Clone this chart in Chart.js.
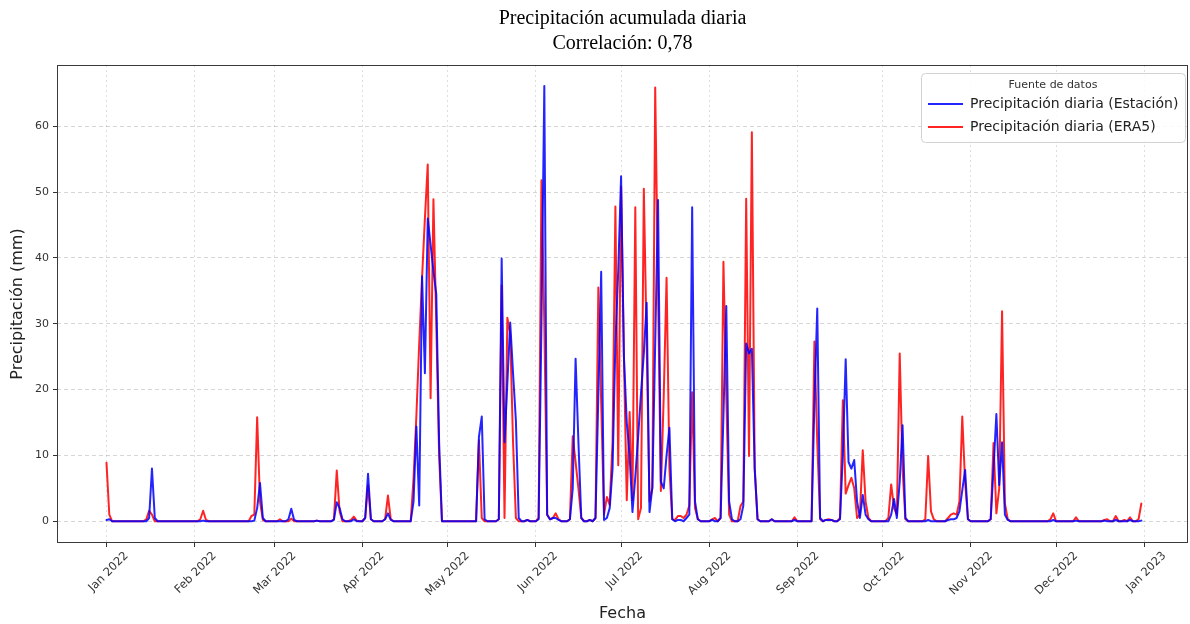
<!DOCTYPE html>
<html>
<head>
<meta charset="utf-8">
<script src="https://cdn.jsdelivr.net/npm/chart.js@4.4.1/dist/chart.umd.min.js"></script>
<style>
  html, body { margin: 0; padding: 0; background: #ffffff; }
  #wrap { width: 1190px; height: 624px; }
</style>
</head>
<body>
<div id="wrap"><canvas id="c" width="1190" height="624"></canvas></div>
<script>
// ---------- data (daily values, 2022-01-01 .. 2022-12-31) ----------
const firstDay = '2022-01-01';

const station = [
  /* Jan */ 0.2,0.3,0,0,0,0,0,0,0,0, 0,0,0,0,0,0.5,8.0,0.5,0,0, 0,0,0,0,0,0,0,0,0,0, 0,
  /* Feb */ 0,0,0,0.1,0,0,0,0,0,0, 0,0,0,0,0,0,0,0,0,0, 0,0.1,2.0,5.8,0.5,0,0,0,
  /* Mar */ 0,0,0,0,0,0.3,1.9,0.2,0,0, 0,0,0,0,0,0.1,0,0,0,0, 0,0.2,2.9,2.0,0.3,0,0,0,0.3,0, 0,
  /* Apr */ 0,0.5,7.2,0.3,0,0,0,0,0.3,1.2, 0.2,0,0,0,0,0,0,0,3.0,14.4, 2.4,37.2,22.5,46.0,42.0,38.0,34.5,12.0,0,0,
  /* May */ 0,0,0,0,0,0,0,0,0,0, 0,12.8,15.9,0.3,0,0,0,0,0.3,39.9, 12.0,21.0,30.2,22.5,15.3,0.5,0,0,0.2,0, 0,
  /* Jun */ 0,0.3,30.0,66.1,1.0,0.3,0.5,0.5,0.2,0, 0,0,0.3,5.0,24.7,12.0,0.5,0,0,0.2, 0,0.5,19.0,37.9,0.2,0.5,2.0,8.0,27.0,38.0,
  /* Jul */ 52.4,25.0,15.0,10.0,1.4,6.7,12.8,19.4,25.5,33.2, 1.4,5.2,27.0,48.8,6.0,5.0,10.0,14.2,0.3,0, 0.2,0.2,0,0.5,1.0,47.7,3.0,0.3,0,0, 0,
  /* Aug */ 0,0.2,0,0,0.5,16.0,32.7,3.0,0.3,0, 0,0.3,2.4,27.0,25.5,26.2,8.0,0.3,0,0, 0,0,0.3,0,0,0,0,0,0,0, 0.2,
  /* Sep */ 0,0,0,0,0,0,18.0,32.3,0.5,0, 0.2,0.2,0.2,0,0,0.3,10.0,24.6,9.0,8.0, 9.3,3.0,0.5,4.0,1.0,0.3,0,0,0,0,
  /* Oct */ 0,0,0,1.0,3.4,0.5,6.0,14.6,0.5,0, 0,0,0,0,0,0,0.2,0,0,0, 0,0,0,0.2,0.3,0.3,0.5,1.5,4.7,7.8, 0.3,
  /* Nov */ 0,0,0,0,0,0,0,0.3,8.0,16.3, 5.5,12.0,1.0,0.2,0,0,0,0,0,0, 0,0,0,0,0,0,0,0,0,0.2,
  /* Dec */ 0,0,0,0,0,0,0,0.1,0,0, 0,0,0,0,0,0,0,0.1,0,0, 0,0.2,0,0,0,0,0.2,0,0,0, 0.1
];

const era5 = [
  /* Jan */ 8.9,1.0,0,0,0,0,0,0,0,0, 0,0,0,0,0.3,1.6,1.0,0,0,0, 0,0,0,0,0,0,0,0,0,0, 0,
  /* Feb */ 0,0,0.3,1.6,0.2,0,0,0,0,0, 0,0,0,0,0,0,0,0,0,0, 0.8,1.0,15.8,3.0,0.2,0,0,0,
  /* Mar */ 0,0,0.3,0,0,0,0.4,0,0,0, 0,0,0,0,0,0.1,0,0,0,0, 0,0.3,7.7,1.5,0,0,0,0.2,0.7,0.1, 0,
  /* Apr */ 0,0.5,5.5,0.3,0,0,0,0,0.3,3.9, 0.3,0,0,0,0,0,0,0,6.5,16.0, 27.0,37.0,46.0,54.2,18.7,48.9,30.0,10.0,0,0,
  /* May */ 0,0,0,0,0,0,0,0,0,0, 0,12.3,0.5,0,0,0,0,0,0.3,35.8, 0.5,30.9,28.5,12.0,0.5,0,0,0,0.2,0, 0,
  /* Jun */ 0,0.5,51.8,30.0,1.0,0.3,0.5,1.2,0.3,0, 0,0,0.3,12.9,9.0,5.0,0.5,0,0,0.2, 0,0.5,35.5,18.0,1.0,3.7,2.5,12.0,47.8,8.5,
  /* Jul */ 50.8,25.0,3.2,16.6,3.2,47.7,0.3,2.0,50.5,27.0, 3.0,5.0,65.9,35.0,4.6,19.0,37.0,8.0,0.3,0.2, 0.8,0.8,0.5,1.0,2.4,19.6,2.0,0.3,0,0, 0,
  /* Aug */ 0,0.3,0.5,0,0.5,39.4,19.0,1.0,0,0, 0,2.3,3.0,49.0,9.9,59.1,8.0,0.3,0,0, 0,0,0.3,0,0,0,0,0,0,0, 0.6,
  /* Sep */ 0,0,0,0,0,0,27.3,12.0,0.3,0, 0.2,0.3,0.2,0,0,0.5,18.4,4.2,5.5,6.6, 5.0,0.5,1.0,10.8,3.0,0.5,0,0,0,0,
  /* Oct */ 0,0,0.5,5.6,2.0,1.0,25.5,8.0,0.3,0, 0,0,0,0,0,0.3,9.9,1.5,0.3,0, 0,0,0,0.5,1.0,1.2,1.0,3.0,15.9,6.0, 0.3,
  /* Nov */ 0,0,0,0,0,0,0,0.3,11.9,1.2, 5.0,31.9,2.7,0.3,0,0,0,0,0,0, 0,0,0,0,0,0,0,0,0.3,1.2,
  /* Dec */ 0,0,0,0,0,0,0,0.6,0,0, 0,0,0,0,0,0,0,0.2,0.3,0, 0,0.8,0,0,0.2,0,0.6,0,0,0.3, 2.7
];

const seriesLabels = ['Precipitación diaria (Estación)', 'Precipitación diaria (ERA5)'];
const legendTitle = 'Fuente de datos';
const titleLines = ['Precipitación acumulada diaria', 'Correlación: 0,78'];

const monthTickDates = ['2022-01-01','2022-02-01','2022-03-01','2022-04-01','2022-05-01','2022-06-01',
  '2022-07-01','2022-08-01','2022-09-01','2022-10-01','2022-11-01','2022-12-01','2023-01-01'];
const monthTickLabels = ['Jan 2022','Feb 2022','Mar 2022','Apr 2022','May 2022','Jun 2022',
  'Jul 2022','Aug 2022','Sep 2022','Oct 2022','Nov 2022','Dec 2022','Jan 2023'];
const yTickValues = [0, 10, 20, 30, 40, 50, 60];

// ---------- helpers ----------
const DAY = 86400000;
const t0 = Date.parse(firstDay + 'T00:00:00Z');
const dayOffset = iso => (Date.parse(iso + 'T00:00:00Z') - t0) / DAY;
const tickDays = monthTickDates.map(dayOffset);
const toPoints = arr => arr.map((v, i) => ({ x: i, y: v }));

const BLUE = 'rgba(0,0,255,0.86)';
const RED = 'rgba(255,0,0,0.86)';

function roundRectPath(ctx, x, y, w, h, r) {
  ctx.moveTo(x + r, y);
  ctx.lineTo(x + w - r, y);
  ctx.arcTo(x + w, y, x + w, y + r, r);
  ctx.lineTo(x + w, y + h - r);
  ctx.arcTo(x + w, y + h, x + w - r, y + h, r);
  ctx.lineTo(x + r, y + h);
  ctx.arcTo(x, y + h, x, y + h - r, r);
  ctx.lineTo(x, y + r);
  ctx.arcTo(x, y, x + r, y, r);
  ctx.closePath();
}

const framePlugin = {
  id: 'frame',
  afterDatasetsDraw(chart) {
    const { ctx, chartArea: a } = chart;
    ctx.save();
    ctx.strokeStyle = '#3a3a3a';
    ctx.lineWidth = 1;
    ctx.strokeRect(Math.round(a.left) + 0.5, Math.round(a.top) + 0.5,
      Math.round(a.right - a.left) - 1, Math.round(a.bottom - a.top) - 1);
    ctx.restore();
  }
};

const boxLegendPlugin = {
  id: 'boxLegend',
  afterDraw(chart) {
    const { ctx, chartArea: a } = chart;
    const w = 264, h = 69;
    const x0 = Math.round(a.right - w - 3), y0 = Math.round(a.top + 8);
    ctx.save();
    ctx.beginPath();
    roundRectPath(ctx, x0 + 0.5, y0 + 0.5, w, h, 4);
    ctx.fillStyle = 'rgba(255,255,255,0.85)';
    ctx.fill();
    ctx.strokeStyle = '#d2d2d2';
    ctx.lineWidth = 1;
    ctx.stroke();
    ctx.fillStyle = '#333';
    ctx.font = '11px "DejaVu Sans"';
    ctx.textAlign = 'center';
    ctx.textBaseline = 'middle';
    ctx.fillText(legendTitle, x0 + w / 2, y0 + 12);
    chart.data.datasets.forEach((ds, i) => {
      const y = y0 + 31 + i * 23;
      ctx.strokeStyle = ds.borderColor;
      ctx.lineWidth = 2;
      ctx.beginPath();
      ctx.moveTo(x0 + 7, y);
      ctx.lineTo(x0 + 42, y);
      ctx.stroke();
      ctx.fillStyle = '#222';
      ctx.font = '14px "DejaVu Sans"';
      ctx.textAlign = 'left';
      ctx.fillText(ds.label, x0 + 49, y + 0.5);
    });
    ctx.restore();
  }
};

new Chart(document.getElementById('c'), {
  type: 'line',
  data: {
    datasets: [
      { label: seriesLabels[0], data: toPoints(station), borderColor: BLUE, backgroundColor: BLUE,
        borderWidth: 2, pointRadius: 0, tension: 0, borderJoinStyle: 'round', borderCapStyle: 'round' },
      { label: seriesLabels[1], data: toPoints(era5), borderColor: RED, backgroundColor: RED,
        borderWidth: 2, pointRadius: 0, tension: 0, borderJoinStyle: 'round', borderCapStyle: 'round' }
    ]
  },
  options: {
    responsive: false,
    animation: false,
    devicePixelRatio: 1,
    parsing: false,
    layout: { padding: { left: 0, right: 2, top: 0, bottom: 0 } },
    plugins: {
      legend: { display: false },
      tooltip: { enabled: false },
      title: {
        display: true,
        fullSize: false,
        text: titleLines,
        color: '#000',
        font: { family: 'Liberation Serif', size: 20, weight: 'normal', lineHeight: '25px' },
        padding: { top: 6, bottom: 9 }
      }
    },
    scales: {
      x: {
        type: 'linear',
        min: -17.4,
        max: 380.4,
        afterBuildTicks: s => { s.ticks = tickDays.map(v => ({ value: v })); },
        afterFit: s => { s.height = 81; },
        ticks: {
          autoSkip: false,
          minRotation: 45,
          maxRotation: 45,
          labelOffset: 20,
          padding: 2,
          color: '#333',
          font: { family: 'DejaVu Sans', size: 11.5 },
          callback: (v, i) => monthTickLabels[i]
        },
        grid: { color: 'rgba(0,0,0,0.13)', lineWidth: 1, tickColor: '#333', tickLength: 4, tickBorderDash: [] },
        border: { display: false, dash: [2, 3] },
        title: {
          display: true, text: 'Fecha', color: '#222',
          font: { family: 'DejaVu Sans', size: 16 },
          padding: { top: 0, bottom: 1 }
        }
      },
      y: {
        type: 'linear',
        min: -3.3,
        max: 69.3,
        afterBuildTicks: s => { s.ticks = yTickValues.map(v => ({ value: v })); },
        afterFit: s => { s.width = 57; },
        ticks: {
          padding: 4,
          color: '#333',
          font: { family: 'DejaVu Sans', size: 11 },
          callback: v => String(v)
        },
        grid: { color: 'rgba(0,0,0,0.16)', lineWidth: 1, tickColor: '#333', tickLength: 4, tickBorderDash: [] },
        border: { display: false, dash: [4, 3] },
        title: {
          display: true, text: 'Precipitación (mm)', color: '#222',
          font: { family: 'DejaVu Sans', size: 16 },
          padding: { top: 8, bottom: 4 }
        }
      }
    }
  },
  plugins: [framePlugin, boxLegendPlugin]
});
</script>
</body>
</html>
